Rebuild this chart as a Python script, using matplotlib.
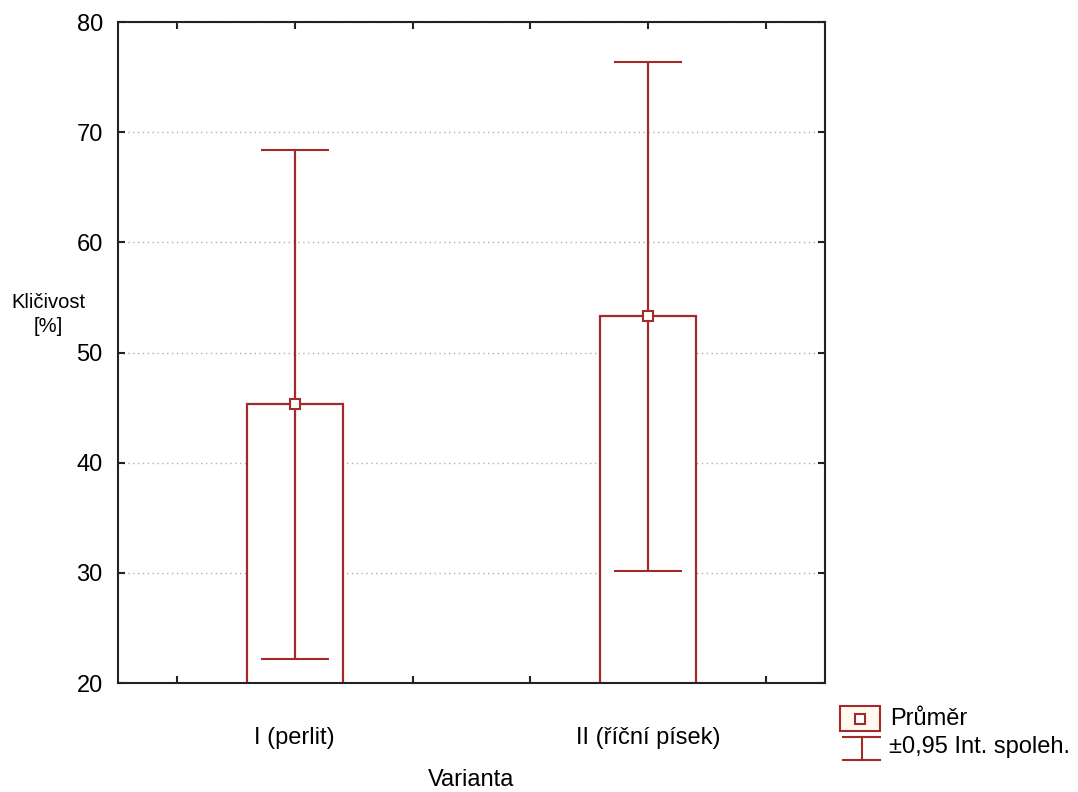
import matplotlib.pyplot as plt
from matplotlib.lines import Line2D
from matplotlib.patches import Rectangle

plt.rcParams['font.family'] = ['Liberation Sans', 'DejaVu Sans']

# klíčivost podle varianty substrátu
varianty = ['I (perlit)', 'II (říční písek)']
prumer = [45.3, 53.3]
ci_dolni = [22.2, 30.2]
ci_horni = [68.4, 76.4]

cervena = '#a32a2a'
x = [1, 2]

fig = plt.figure(figsize=(10.78, 7.92), dpi=100)
fig.patch.set_facecolor('white')
ax = fig.add_axes([0.1095, 0.1376, 0.6558, 0.8346])

ax.bar(x, prumer, width=0.272, facecolor='white', edgecolor=cervena,
       linewidth=1.6, zorder=2)
err_lo = [m - d for m, d in zip(prumer, ci_dolni)]
err_hi = [h - m for m, h in zip(prumer, ci_horni)]
ax.errorbar(x, prumer, yerr=[err_lo, err_hi], fmt='s', color=cervena,
            markerfacecolor='white', markeredgecolor=cervena, markersize=7,
            markeredgewidth=1.5, elinewidth=1.6, capsize=24.5, capthick=1.6,
            zorder=3)

ax.set_xlim(0.5, 2.5)
ax.set_ylim(20, 80)
ax.set_yticks([20, 30, 40, 50, 60, 70, 80])
ax.set_xticks(x)
ax.set_xticklabels(varianty)
ax.set_xticks([2/3, 4/3, 5/3, 7/3], minor=True)
ax.yaxis.grid(True, linestyle=(0, (1, 2.5)), color='#b0b0b0', linewidth=1)
ax.set_axisbelow(True)

for s in ax.spines.values():
    s.set_linewidth(1.5)
    s.set_color('#222222')

ax.tick_params(axis='both', which='both', direction='in', top=True, right=True,
               length=5, width=1.5, color='#222222', labelsize=17)
ax.tick_params(axis='y', pad=11)
ax.tick_params(axis='x', which='major', pad=32)

ax.set_xlabel('Varianta', fontsize=17, labelpad=14)
fig.text(0.045, 0.603, 'Kličivost\n[%]', fontsize=14.5, ha='center',
         va='center', linespacing=1.35)

# legenda
fig.patches.append(Rectangle((840/1078, 1 - 731/792), 40/1078, 25/792,
                             transform=fig.transFigure, facecolor='#fff9f0',
                             edgecolor=cervena, linewidth=1.5))
fig.lines.append(Line2D([860/1078], [1 - 718.5/792], marker='s', markersize=7,
                        markerfacecolor='white', markeredgecolor=cervena,
                        markeredgewidth=1.5, transform=fig.transFigure))
fig.lines.append(Line2D([843/1078, 880/1078], [1 - 737/792, 1 - 737/792],
                        color=cervena, linewidth=1.5, transform=fig.transFigure))
fig.lines.append(Line2D([861.5/1078, 861.5/1078], [1 - 737/792, 1 - 760/792],
                        color=cervena, linewidth=1.5, transform=fig.transFigure))
fig.lines.append(Line2D([843/1078, 880/1078], [1 - 760/792, 1 - 760/792],
                        color=cervena, linewidth=1.5, transform=fig.transFigure))
fig.text(890/1078, 1 - 719/792, 'Průměr', fontsize=17, va='center', ha='left')
fig.text(889/1078, 1 - 747/792, '±0,95 Int. spoleh.', fontsize=17,
         va='center', ha='left')

fig.savefig('out.png', dpi=100, facecolor='white')
